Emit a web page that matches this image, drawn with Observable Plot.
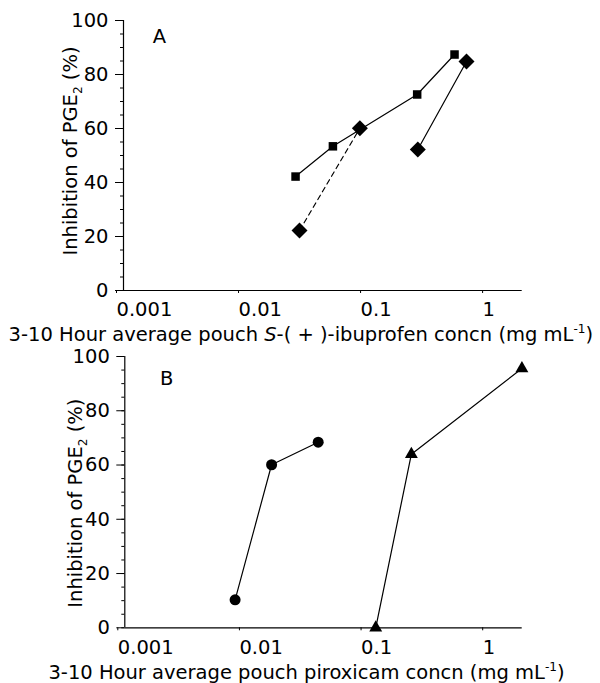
<!DOCTYPE html>
<html>
<head>
<meta charset="utf-8">
<script src="https://cdn.jsdelivr.net/npm/d3@7"></script>
<script src="https://cdn.jsdelivr.net/npm/@observablehq/plot@0.6"></script>
<style>
  html, body { margin: 0; padding: 0; background: #fff; }
  #chart svg { display: block; overflow: visible; }
</style>
</head>
<body>
<div id="chart"></div>
<script>
// ---- data ----
const xTicks = [0.001, 0.01, 0.1, 1];
const yTicks = [0, 20, 40, 60, 80, 100];
const yMinor = d3.range(0, 101, 5);

// Panel A: S-(+)-ibuprofen
const squareX = [0.0257, 0.052, 0.255, 0.516];
const squareY = [42.2, 53.4, 72.6, 87.4];
const diamondX = [0.0277, 0.0865, 0.258, 0.647];
const diamondY = [22.2, 60.1, 52.2, 84.8];

// Panel B: piroxicam
const circleX = [0.00807, 0.0161, 0.0389];
const circleY = [10.3, 60.1, 68.4];
const triangleX = [0.1156, 0.227, 1.84];
const triangleY = [0, 64, 95.6];

const yLabel = "Inhibition of PGE2 (%)";
const xLabelA = "3-10 Hour average pouch S-( + )-ibuprofen concn (mg mL-1)";
const xLabelB = "3-10 Hour average pouch piroxicam concn (mg mL-1)";

const toPts = (xs, ys) => xs.map((x, i) => ({x, y: ys[i]}));
const FONT = "'DejaVu Sans', Verdana, sans-serif";
const FS = 19.5;

function axes(opts) {
  return [
    Plot.ruleY([0], {stroke: "black", strokeWidth: 1.2}),
    Plot.ruleX([0.001], {stroke: "black", strokeWidth: 1.2}),
    Plot.axisX({ticks: xTicks, tickSize: 3, tickPadding: 9, tickFormat: d => String(d),
      textAnchor: "start", dx: -7, fontSize: FS, label: null, strokeWidth: 1}),
    Plot.axisY({ticks: yTicks, tickSize: 8, tickPadding: 7, fontSize: FS, label: null, strokeWidth: 1}),
    Plot.axisY({ticks: yMinor, tickSize: 3, tickFormat: () => "", label: null, strokeWidth: 1}),
    Plot.text([yLabel], {frameAnchor: "left", rotate: -90, dx: opts.ylx, dy: opts.yly,
      fontSize: FS, textAnchor: "middle", lineAnchor: "middle"}),
    Plot.text([opts.xlabel], {frameAnchor: "bottom", dx: opts.xlx, dy: opts.xly,
      fontSize: FS, textAnchor: "middle", lineAnchor: "middle"}),
    Plot.text([opts.letter], {frameAnchor: "top-left", dx: opts.lx, dy: opts.ly,
      fontSize: FS, textAnchor: "middle", lineAnchor: "middle"})
  ];
}

const panelA = Plot.plot({
  width: 600, height: 345,
  marginLeft: 123, marginRight: 78.3, marginTop: 20, marginBottom: 55,
  style: {fontFamily: FONT, fontSize: FS + "px", color: "black", background: "white"},
  x: {type: "log", domain: [0.001, 1.85]},
  y: {domain: [0, 100]},
  marks: [
    ...axes({ylx: -53, yly: -4.5, xlabel: xLabelA, xlx: -22, xly: 44, letter: "A", lx: 36, ly: 16}),
    Plot.line(toPts(squareX, squareY), {x: "x", y: "y", stroke: "black", strokeWidth: 1.2}),
    Plot.line(toPts(diamondX, diamondY).slice(0, 2), {x: "x", y: "y", stroke: "black", strokeWidth: 1.2, strokeDasharray: "5,4"}),
    Plot.line(toPts(diamondX, diamondY).slice(2), {x: "x", y: "y", stroke: "black", strokeWidth: 1.2}),
    Plot.dot(toPts(squareX, squareY), {x: "x", y: "y", symbol: "square", r: 4.8, fill: "black", stroke: "none"}),
    Plot.dot(toPts(diamondX, diamondY), {x: "x", y: "y", symbol: "diamond2", r: 7.2, fill: "black", stroke: "none"})
  ]
});

const panelB = Plot.plot({
  width: 600, height: 338,
  marginLeft: 124.3, marginRight: 78.3, marginTop: 11, marginBottom: 55.7,
  style: {fontFamily: FONT, fontSize: FS + "px", color: "black", background: "white"},
  x: {type: "log", domain: [0.001, 1.85]},
  y: {domain: [0, 100]},
  marks: [
    ...axes({ylx: -49, yly: 11, xlabel: xLabelB, xlx: -17, xly: 44.7, letter: "B", lx: 42, ly: 22}),
    Plot.line(toPts(circleX, circleY), {x: "x", y: "y", stroke: "black", strokeWidth: 1.2}),
    Plot.line(toPts(triangleX, triangleY), {x: "x", y: "y", stroke: "black", strokeWidth: 1.2}),
    Plot.dot(toPts(circleX, circleY), {x: "x", y: "y", symbol: "circle", r: 5.5, fill: "black", stroke: "none"}),
    Plot.dot(toPts(triangleX, triangleY), {x: "x", y: "y", symbol: "triangle", r: 4.8, fill: "black", stroke: "none"})
  ]
});

// rich text: subscripts, superscripts, italics
function richify(svg, plain, parts) {
  svg.querySelectorAll("text").forEach(t => {
    if (t.textContent !== plain) return;
    const sel = d3.select(t);
    sel.text(null);
    let shift = 0;
    for (const p of parts) {
      const ts = sel.append("tspan").text(p.t);
      const target = p.sub ? 5 : p.sup ? -8 : 0;
      if (target !== shift) { ts.attr("dy", target - shift); shift = target; }
      if (p.sub || p.sup) ts.attr("font-size", "0.62em");
      if (p.i) ts.attr("font-style", "italic");
    }
  });
}
for (const svg of [panelA, panelB]) {
  richify(svg, yLabel, [{t: "Inhibition of PGE"}, {t: "2", sub: true}, {t: " (%)"}]);
}
richify(panelA, xLabelA, [{t: "3-10 Hour average pouch "}, {t: "S", i: true}, {t: "-( + )-ibuprofen concn (mg mL"}, {t: "-1", sup: true}, {t: ")"}]);
richify(panelB, xLabelB, [{t: "3-10 Hour average pouch piroxicam concn (mg mL"}, {t: "-1", sup: true}, {t: ")"}]);

document.getElementById("chart").append(panelA, panelB);
</script>
</body>
</html>
